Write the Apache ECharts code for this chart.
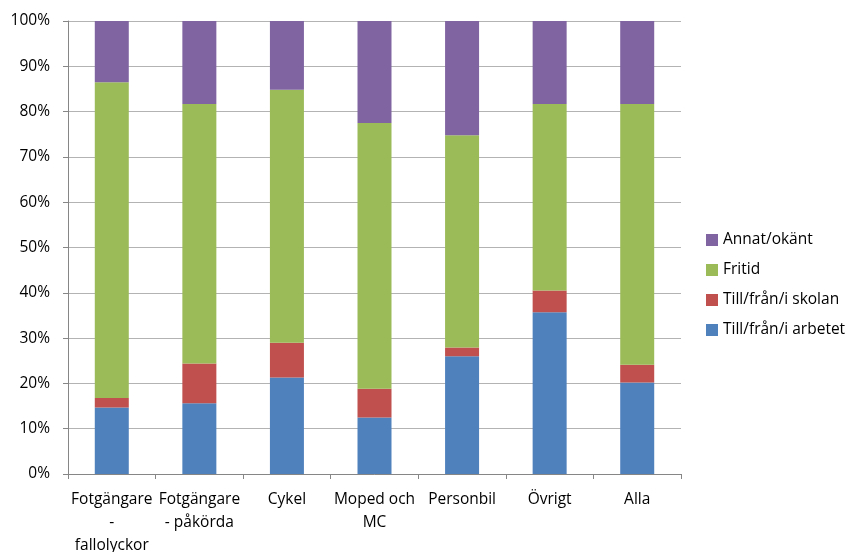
<!DOCTYPE html>
<html><head><meta charset="utf-8">
<script src="https://cdn.jsdelivr.net/npm/echarts@6/dist/echarts.min.js"></script>
<style>html,body{margin:0;padding:0;background:#fff}#c{width:848px;height:552px}</style>
</head><body><div id="c"></div>
<script>
const categories = ['Fotgängare\n-\nfallolyckor', 'Fotgängare\n- påkörda', 'Cykel', 'Moped och\nMC', 'Personbil', 'Övrigt', 'Alla'];
const arbetet = [14.7, 15.6, 21.3, 12.5, 26.0, 35.7, 20.2];
const skolan = [2.1, 8.8, 7.7, 6.3, 1.9, 4.8, 3.9];
const fritid = [69.7, 57.3, 55.8, 58.7, 46.9, 41.2, 57.6];
const annat = [13.5, 18.3, 15.2, 22.5, 25.2, 18.3, 18.3];
const seriesNames = ['Till/från/i arbetet', 'Till/från/i skolan', 'Fritid', 'Annat/okänt'];
const yTicks = [0, 10, 20, 30, 40, 50, 60, 70, 80, 90, 100];

const font = 'Open Sans, Noto Sans, sans-serif';
const chart = echarts.init(document.getElementById('c'), null, {renderer: 'canvas'});
const colors = ['#4F81BD', '#C0504D', '#9BBB59', '#8064A2'];
const dataSets = [arbetet, skolan, fritid, annat];
chart.setOption({
  animation: false,
  color: colors,
  grid: {left: 68, right: 167, top: 21, bottom: 78, containLabel: false, outerBoundsMode: 'none'},
  legend: {
    orient: 'vertical', left: 701, top: 226,
    data: seriesNames.slice().reverse(),
    icon: 'rect', itemWidth: 12, itemHeight: 12, itemGap: 12,
    textStyle: {fontFamily: font, fontSize: 15.5, color: '#000', lineHeight: 18, padding: [0, 0, 0, 0]}
  },
  xAxis: {
    type: 'category', data: categories,
    axisLine: {lineStyle: {color: '#868686'}},
    axisTick: {show: true, length: 5, lineStyle: {color: '#868686'}},
    axisLabel: {fontFamily: font, fontSize: 15.5, color: '#000', lineHeight: 23, margin: 14, interval: 0}
  },
  yAxis: {
    type: 'value', min: 0, max: 100, interval: 10,
    axisLine: {show: true, lineStyle: {color: '#868686'}},
    axisTick: {show: true, length: 5, lineStyle: {color: '#868686'}},
    splitLine: {lineStyle: {color: '#b3b3b3'}},
    axisLabel: {fontFamily: font, fontSize: 15.5, color: '#000', margin: 18,
      formatter: v => yTicks.includes(v) ? v + '%' : ''}
  },
  series: seriesNames.map((n, i) => ({
    name: n, type: 'bar', stack: 'total', data: dataSets[i], barWidth: 34,
    itemStyle: {color: colors[i]}
  }))
});
</script></body></html>
